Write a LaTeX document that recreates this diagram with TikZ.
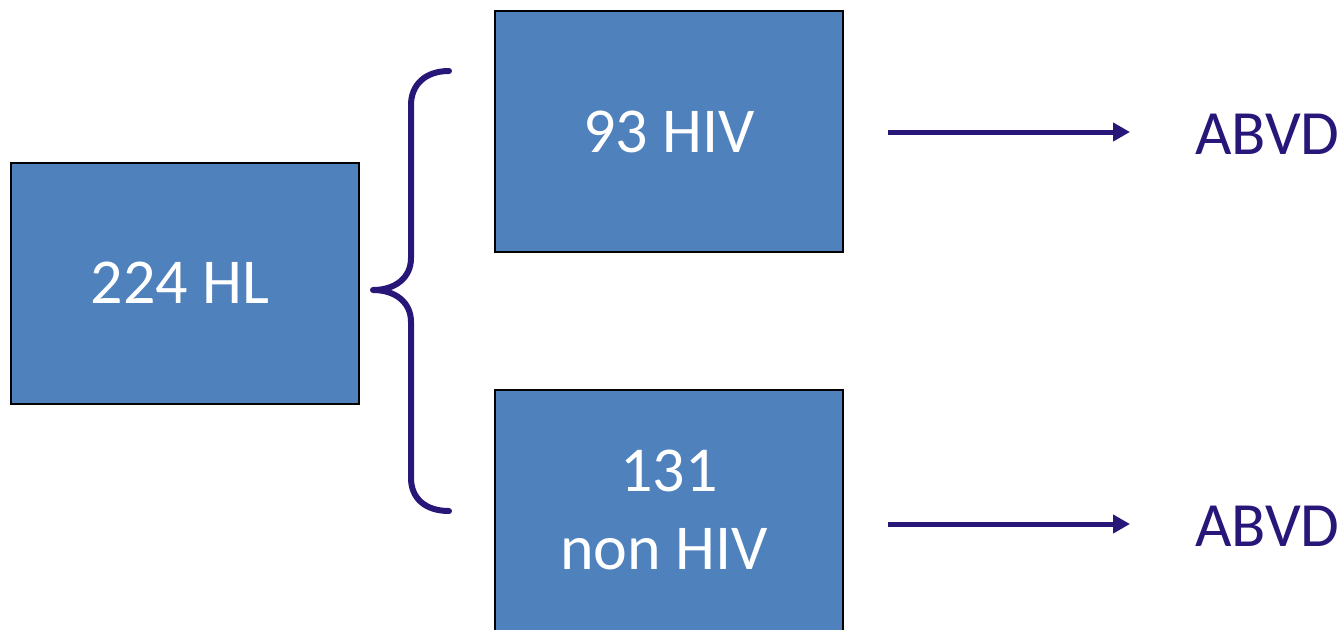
\documentclass[tikz,border=0pt]{standalone}
\usepackage{fontspec}
\setmainfont{Carlito}
\usetikzlibrary{arrows.meta}

\definecolor{boxblue}{RGB}{79,129,189}
\definecolor{darkpurple}{RGB}{40,22,120}

\tikzset{
	group/.style={draw=black, line width=2pt, fill=boxblue, text=white, inner sep=0pt,
		minimum width=348pt, minimum height=241pt, align=center,
		font=\fontsize{64}{78}\selectfont},
	therapy/.style={text=darkpurple, inner sep=0pt, anchor=west, font=\fontsize{63}{74}\selectfont},
	flow/.style={darkpurple, line width=5pt, -{Triangle[length=17pt, width=18pt]}}
}

\begin{document}
\begin{tikzpicture}[x=1pt, y=-1pt]
	
	% Page frame
	\useasboundingbox (0,0) rectangle (1343,629);
	
	% Patient groups
	\node[group] (hl) at (185,283) {224 HL\hspace*{10pt}};
	\node[group] (hiv) at (669,131.5) {93 HIV};
	\node[group] (nonhiv) at (669,510) {131\\non HIV\hspace*{10pt}};
	
	% Treatment labels
	\node[therapy] (abvd1) at (1195,134) {ABVD};
	\node[therapy] (abvd2) at (1195,526) {ABVD};
	
	% Arrow start and end points
	\coordinate (s1) at (888,132);
	\coordinate (e1) at (1130,132);
	\coordinate (s2) at (888,524);
	\coordinate (e2) at (1130,524);
	
	% Arrows towards the treatment
	\foreach \a/\b in {s1/e1, s2/e2} {
		\draw[flow] (\a) -- (\b);
	}
	
	% Curly brace splitting the group
	\draw[darkpurple, line width=6pt, line cap=round, line join=round]
		(449,71) .. controls (425,71) and (411,85) .. (411,105) -- (411,258)
		.. controls (411,278) and (395,290) .. (373,290)
		.. controls (395,290) and (411,302) .. (411,322) -- (411,478)
		.. controls (411,498) and (425,511) .. (449,511);
	
\end{tikzpicture}
\end{document}
